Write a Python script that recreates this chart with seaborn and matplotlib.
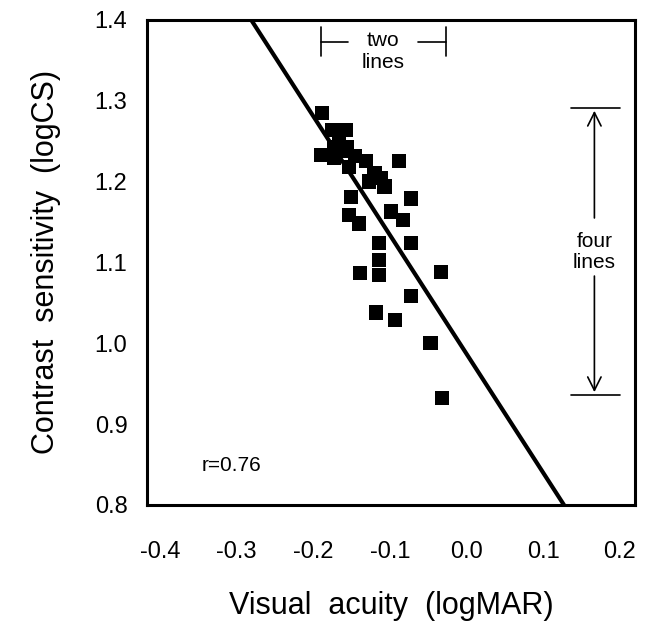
import numpy as np
import pandas as pd
import matplotlib
matplotlib.use("Agg")
import matplotlib.pyplot as plt
import seaborn as sns

# visual acuity (logMAR) vs contrast sensitivity (logCS)
acuity = [-0.189, -0.175, -0.157, -0.190, -0.173, -0.156, -0.173, -0.153,
          -0.131, -0.088, -0.127, -0.112, -0.107, -0.151, -0.072, -0.153,
          -0.140, -0.098, -0.083, -0.114, -0.072, -0.114, -0.114, -0.139,
          -0.033, -0.072, -0.118, -0.093, -0.047, -0.032, -0.166, -0.145,
          -0.160, -0.120]
contrast = [1.285, 1.264, 1.264, 1.233, 1.243, 1.243, 1.229, 1.218,
            1.225, 1.225, 1.200, 1.204, 1.194, 1.181, 1.179, 1.159,
            1.148, 1.163, 1.152, 1.124, 1.124, 1.103, 1.084, 1.087,
            1.088, 1.058, 1.038, 1.029, 1.000, 0.932, 1.255, 1.232,
            1.238, 1.210]

# regression line
slope = -1.47
intercept = 0.987
r_value = 0.76

x_ticks = [-0.4, -0.3, -0.2, -0.1, 0.0, 0.1, 0.2]
y_ticks = [0.8, 0.9, 1.0, 1.1, 1.2, 1.3, 1.4]

# "two lines" / "four lines" brackets
two_lines_x = [-0.190, -0.027]
two_lines_y = 1.373
four_lines_x = 0.167
four_lines_y = [0.936, 1.291]

df = pd.DataFrame({"acuity": acuity, "contrast": contrast})

sns.set_style("white")
plt.rcParams["font.family"] = ["Liberation Sans", "DejaVu Sans"]
plt.rcParams["text.color"] = "black"
plt.rcParams["axes.labelcolor"] = "black"
plt.rcParams["xtick.color"] = "black"
plt.rcParams["ytick.color"] = "black"

fig = plt.figure(figsize=(6.56, 6.21), dpi=100)
ax = fig.add_axes([0.224, 0.187, 0.744, 0.781])

sns.scatterplot(data=df, x="acuity", y="contrast", marker="s", s=105,
                color="black", edgecolor="none", ax=ax, zorder=3)
ax.axline((0, intercept), slope=slope, color="black", linewidth=3.0, zorder=2)

ax.set_xlim(-0.417, 0.22)
ax.set_ylim(0.8, 1.4)
ax.set_xticks(x_ticks)
ax.set_xticklabels([f"{v:.1f}" for v in x_ticks])
ax.set_yticks(y_ticks)
ax.set_yticklabels([f"{v:.1f}" for v in y_ticks])
ax.tick_params(axis="x", length=0, pad=26, labelsize=17, colors="black")
ax.tick_params(axis="y", length=0, pad=14, labelsize=17, colors="black")

for sp in ax.spines.values():
    sp.set_visible(True)
    sp.set_color("black")
    sp.set_linewidth(2.2)

ax.set_xlabel("Visual  acuity  (logMAR)", fontsize=22, labelpad=20, color="black")
ax.set_ylabel("Contrast  sensitivity  (logCS)", fontsize=22, labelpad=24, color="black")

# r value
ax.text(-0.307, 0.849, f"r=0.{int(round(r_value * 100))}", fontsize=15,
        ha="center", va="center")

# two lines bracket
cap = 0.018
ax.plot([two_lines_x[0]] * 2, [two_lines_y - cap, two_lines_y + cap], color="black", lw=1.2)
ax.plot([two_lines_x[1]] * 2, [two_lines_y - cap, two_lines_y + cap], color="black", lw=1.2)
ax.plot([two_lines_x[0], -0.155], [two_lines_y] * 2, color="black", lw=1.2)
ax.plot([-0.063, two_lines_x[1]], [two_lines_y] * 2, color="black", lw=1.2)
mid = (two_lines_x[0] + two_lines_x[1]) / 2
ax.text(mid, two_lines_y + 0.002, "two", fontsize=15, ha="center", va="center")
ax.text(mid, two_lines_y - 0.026, "lines", fontsize=15, ha="center", va="center")

# four lines arrows
for yv in four_lines_y:
    ax.plot([four_lines_x - 0.031, four_lines_x + 0.033], [yv, yv], color="black", lw=1.2)
ymid = (four_lines_y[0] + four_lines_y[1]) / 2
ax.annotate("", xy=(four_lines_x, four_lines_y[1]), xytext=(four_lines_x, ymid + 0.038),
            arrowprops=dict(arrowstyle="->", color="black", lw=1.2, mutation_scale=24))
ax.annotate("", xy=(four_lines_x, four_lines_y[0]), xytext=(four_lines_x, ymid - 0.027),
            arrowprops=dict(arrowstyle="->", color="black", lw=1.2, mutation_scale=24))
ax.text(four_lines_x, ymid + 0.012, "four", fontsize=15, ha="center", va="center")
ax.text(four_lines_x, ymid - 0.014, "lines", fontsize=15, ha="center", va="center")

fig.savefig("out.png", dpi=100)
